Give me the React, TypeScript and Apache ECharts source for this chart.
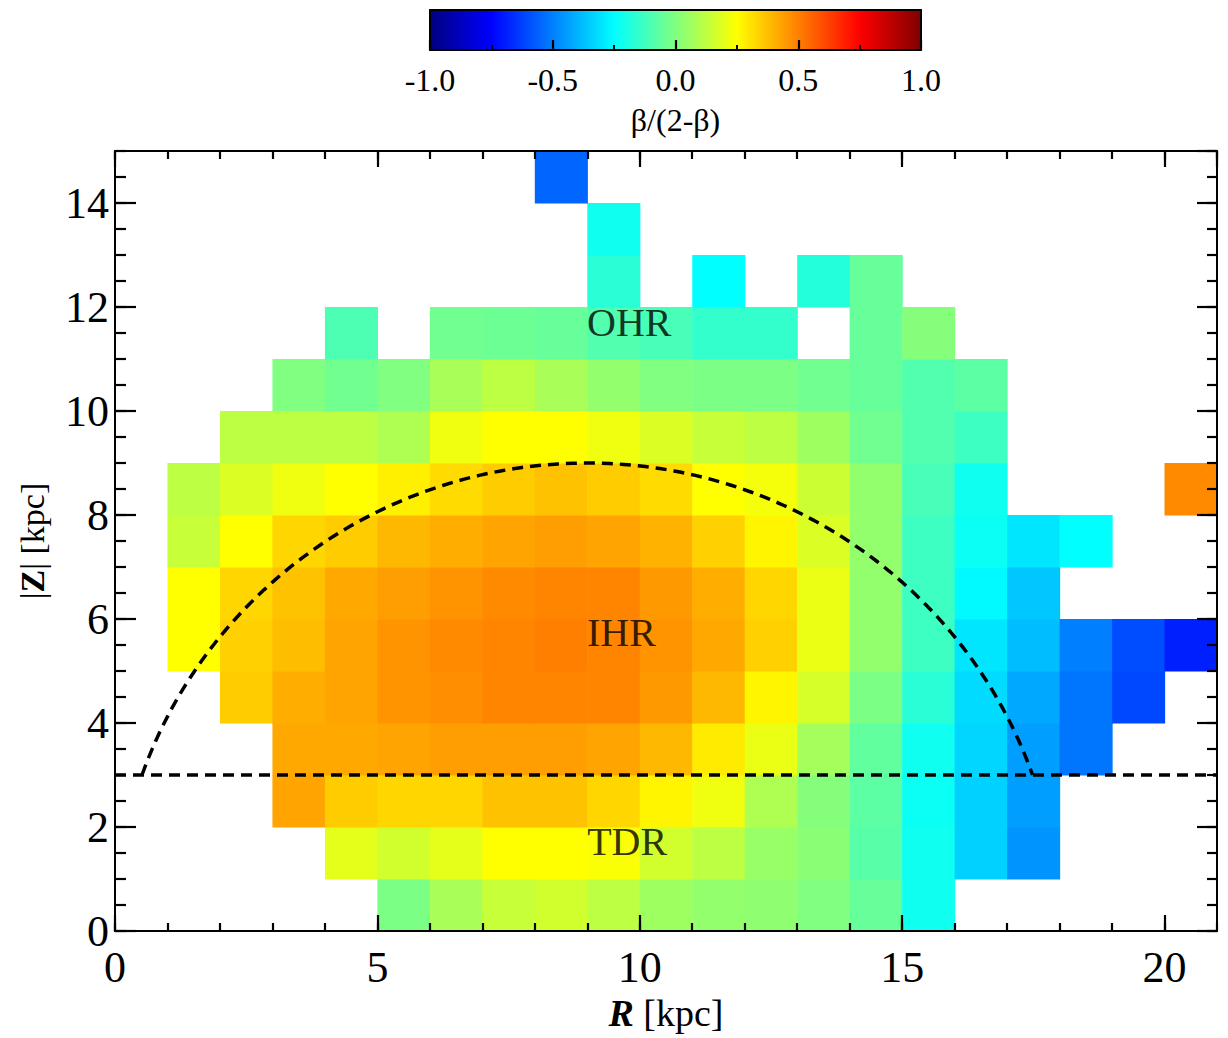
import React, { useEffect, useRef } from "react";
import * as echarts from "echarts";

const _ = null;
// R bins (lower edges, kpc) and |Z| bins (lower edges, kpc), each 1 kpc wide
const rBins = [0, 1, 2, 3, 4, 5, 6, 7, 8, 9, 10, 11, 12, 13, 14, 15, 16, 17, 18, 19, 20];
const zBins = [0, 1, 2, 3, 4, 5, 6, 7, 8, 9, 10, 11, 12, 13, 14];
// beta/(2-beta) per cell, one row per |Z| bin, columns follow rBins
const rowZ0 = [_, _, _, _, _, -0.01, 0.08, 0.14, 0.16, 0.12, 0.06, 0.04, 0.03, 0.0, -0.05, -0.22, _, _, _, _, _];
const rowZ1 = [_, _, _, _, 0.2, 0.16, 0.2, 0.25, 0.25, 0.24, 0.16, 0.12, 0.05, 0.02, -0.08, -0.22, -0.34, -0.46, _, _, _];
const rowZ2 = [_, _, _, 0.43, 0.35, 0.33, 0.33, 0.37, 0.37, 0.33, 0.27, 0.22, 0.09, 0.01, -0.07, -0.23, -0.34, -0.44, _, _, _];
const rowZ3 = [_, _, _, 0.42, 0.42, 0.43, 0.44, 0.44, 0.44, 0.43, 0.39, 0.29, 0.21, 0.07, -0.06, -0.22, -0.33, -0.44, -0.52, _, _];
const rowZ4 = [_, _, 0.35, 0.41, 0.43, 0.46, 0.47, 0.49, 0.49, 0.49, 0.45, 0.39, 0.27, 0.17, -0.01, -0.17, -0.32, -0.42, -0.52, -0.61, _];
const rowZ5 = [_, 0.25, 0.34, 0.38, 0.43, 0.46, 0.48, 0.49, 0.5, 0.49, 0.46, 0.42, 0.34, 0.21, 0.04, -0.13, -0.3, -0.38, -0.5, -0.6, -0.69];
const rowZ6 = [_, 0.25, 0.33, 0.37, 0.42, 0.44, 0.46, 0.48, 0.49, 0.49, 0.45, 0.41, 0.33, 0.21, 0.04, -0.13, -0.26, -0.36, _, _, _];
const rowZ7 = [_, 0.14, 0.25, 0.33, 0.35, 0.39, 0.41, 0.43, 0.44, 0.43, 0.4, 0.34, 0.27, 0.18, 0.04, -0.13, -0.23, -0.3, -0.25, _, _];
const rowZ8 = [_, 0.12, 0.18, 0.22, 0.25, 0.28, 0.32, 0.35, 0.37, 0.35, 0.32, 0.25, 0.23, 0.15, 0.04, -0.11, -0.22, _, _, _, 0.48];
const rowZ9 = [_, _, 0.12, 0.12, 0.12, 0.09, 0.22, 0.25, 0.25, 0.22, 0.18, 0.14, 0.12, 0.06, -0.03, -0.09, -0.13, _, _, _, _];
const rowZ10 = [_, _, _, 0.0, -0.03, 0.0, 0.08, 0.12, 0.08, 0.04, 0.0, -0.01, -0.01, -0.03, -0.05, -0.09, -0.07, _, _, _, _];
const rowZ11 = [_, _, _, _, -0.1, _, -0.03, -0.04, -0.05, -0.09, -0.11, -0.15, -0.15, _, -0.05, 0.01, _, _, _, _, _];
const rowZ12 = [_, _, _, _, _, _, _, _, _, -0.17, _, -0.25, _, -0.18, -0.05, _, _, _, _, _, _];
const rowZ13 = [_, _, _, _, _, _, _, _, _, -0.22, _, _, _, _, _, _, _, _, _, _, _];
const rowZ14 = [_, _, _, _, _, _, _, _, -0.55, _, _, _, _, _, _, _, _, _, _, _, _];
const rows = [rowZ0, rowZ1, rowZ2, rowZ3, rowZ4, rowZ5, rowZ6, rowZ7, rowZ8, rowZ9, rowZ10, rowZ11, rowZ12, rowZ13, rowZ14];

// colour bar ticks
const cbarTicks = [-1.0, -0.5, 0.0, 0.5, 1.0];
// region labels [R, |Z|, text]
const regionLabels: [number, number, string][] = [
  [9.8, 11.7, "OHR"],
  [9.65, 5.75, "IHR"],
  [9.76, 1.73, "TDR"],
];
// boundaries: circle of radius 9 kpc about (R=9, Z=0) above |Z| = 3 kpc, and the |Z| = 3 kpc line
const ARC_CENTER_R = 9;
const ARC_RADIUS = 9;
const DISK_Z = 3;

const JET = ["#000080", "#0000ff", "#0080ff", "#00ffff", "#80ff80", "#ffff00", "#ff8000", "#ff0000", "#800000"];
const FONT = "Liberation Serif";
const TICK_FONT = 44;

export default function App() {
  const ref = useRef<HTMLDivElement>(null);
  useEffect(() => {
    if (!ref.current) return;
    const chart = echarts.init(ref.current, null, { renderer: "svg" });

    const cells: number[][] = [];
    rows.forEach((row, zi) =>
      row.forEach((v, ri) => {
        if (v !== null) cells.push([rBins[ri], zBins[zi], v as number]);
      })
    );

    const arc: number[][] = [];
    const t0 = Math.asin(DISK_Z / ARC_RADIUS);
    const N = 160;
    for (let i = 0; i <= N; i++) {
      const t = t0 + ((Math.PI - 2 * t0) * i) / N;
      arc.push([ARC_CENTER_R - ARC_RADIUS * Math.cos(t), ARC_RADIUS * Math.sin(t)]);
    }
    const diskLine = [
      [0, DISK_Z],
      [21, DISK_Z],
    ];

    const axLine = () => ({ show: true, onZero: false, lineStyle: { color: "#000", width: 2 } });
    const tick = (len: number) => ({ show: true, inside: true, length: len, lineStyle: { color: "#000", width: 2.2 } });
    const mkX = (pos: string, interval: number, len: number, labels: boolean, extra: any = {}) => ({
      gridIndex: 0,
      type: "value",
      position: pos,
      min: 0,
      max: 21,
      interval,
      z: 10,
      axisLine: axLine(),
      axisTick: tick(len),
      axisLabel: {
        show: labels,
        showMaxLabel: false,
        margin: 14,
        fontSize: TICK_FONT,
        fontFamily: FONT,
        color: "#000",
      },
      splitLine: { show: false },
      ...extra,
    });
    const mkY = (pos: string, interval: number, len: number, labels: boolean, extra: any = {}) => ({
      gridIndex: 0,
      type: "value",
      position: pos,
      min: 0,
      max: 15,
      interval,
      z: 10,
      axisLine: axLine(),
      axisTick: tick(len),
      axisLabel: {
        show: labels,
        showMaxLabel: false,
        margin: 6,
        fontSize: TICK_FONT,
        fontFamily: FONT,
        color: "#000",
      },
      splitLine: { show: false },
      ...extra,
    });
    const frameAxis = (kind: "x" | "y", pos: string) => ({
      gridIndex: 1,
      type: "value",
      position: pos,
      min: kind === "x" ? -1 : 0,
      max: 1,
      z: 10,
      axisLine: axLine(),
      axisTick: { show: false },
      axisLabel: { show: false },
      splitLine: { show: false },
    });

    const gradStops = JET.map((c, i) => ({ offset: i / (JET.length - 1), color: c }));

    chart.setOption({
      animation: false,
      backgroundColor: "#fff",
      textStyle: { fontFamily: FONT, color: "#000" },
      grid: [
        { left: 115, top: 151, width: 1102, height: 780, containLabel: false },
        { left: 430, top: 10, width: 491, height: 40, containLabel: false },
      ],
      visualMap: {
        type: "continuous",
        show: false,
        seriesIndex: 0,
        dimension: 2,
        min: -1,
        max: 1,
        inRange: { color: JET },
      },
      xAxis: [
        mkX("bottom", 1, 8, false),
        mkX("bottom", 5, 16, true, {
          name: "{bi|R} [kpc]",
          nameLocation: "middle",
          nameGap: 62,
          nameTextStyle: {
            fontSize: 38,
            fontFamily: FONT,
            color: "#000",
            rich: { bi: { fontSize: 38, fontFamily: FONT, fontWeight: "bold", fontStyle: "italic", color: "#000" } },
          },
        }),
        mkX("top", 1, 8, false),
        mkX("top", 5, 16, false),
        {
          gridIndex: 1,
          type: "value",
          position: "bottom",
          min: -1,
          max: 1,
          interval: 0.5,
          z: 10,
          axisLine: axLine(),
          axisTick: tick(10),
          minorTick: { show: true, splitNumber: 2, length: 5, lineStyle: { color: "#000", width: 2 } },
          axisLabel: {
            show: true,
            margin: 14,
            fontSize: 32,
            fontFamily: FONT,
            color: "#000",
            formatter: (v: number) => {
              const t = cbarTicks.find((c) => Math.abs(c - v) < 1e-6);
              return t === undefined ? "" : t.toFixed(1);
            },
          },
          splitLine: { show: false },
          name: "β/(2-β)",
          nameLocation: "middle",
          nameGap: 54,
          nameTextStyle: { fontSize: 32, fontFamily: FONT, color: "#000" },
        },
        frameAxis("x", "top"),
      ],
      yAxis: [
        mkY("left", 0.5, 11, false),
        mkY("left", 2, 21, true, {
          name: "|{b|Z}| [kpc]",
          nameLocation: "middle",
          nameRotate: 90,
          nameGap: 66,
          nameTextStyle: {
            fontSize: 34,
            fontFamily: FONT,
            color: "#000",
            rich: { b: { fontSize: 34, fontFamily: FONT, fontWeight: "bold", color: "#000" } },
          },
        }),
        mkY("right", 0.5, 10, false),
        mkY("right", 2, 20, false),
        frameAxis("y", "left"),
        frameAxis("y", "right"),
      ],
      series: [
        {
          type: "custom",
          xAxisIndex: 0,
          yAxisIndex: 0,
          data: cells,
          encode: { x: 0, y: 1 },
          z: 2,
          renderItem: (params: any, api: any) => {
            const r = api.value(0);
            const z = api.value(1);
            const p0 = api.coord([r, z + 1]);
            const p1 = api.coord([r + 1, z]);
            return {
              type: "rect",
              shape: { x: p0[0], y: p0[1], width: p1[0] - p0[0] + 0.6, height: p1[1] - p0[1] + 0.6 },
              style: { fill: api.visual("color"), stroke: null },
            };
          },
        },
        {
          type: "line",
          xAxisIndex: 0,
          yAxisIndex: 0,
          data: arc,
          showSymbol: false,
          symbol: "none",
          z: 4,
          lineStyle: { color: "#000", width: 3.5, type: [11, 7] },
        },
        {
          type: "line",
          xAxisIndex: 0,
          yAxisIndex: 0,
          data: diskLine,
          showSymbol: false,
          symbol: "none",
          z: 4,
          lineStyle: { color: "#000", width: 3.5, type: [11, 7] },
        },
        {
          type: "scatter",
          xAxisIndex: 0,
          yAxisIndex: 0,
          z: 5,
          symbolSize: 1,
          itemStyle: { color: "rgba(0,0,0,0)" },
          data: regionLabels.map((d) => ({ value: [d[0], d[1]], name: d[2] })),
          label: {
            show: true,
            position: "inside",
            formatter: "{b}",
            fontSize: 40,
            fontFamily: FONT,
            color: "#000",
          },
        },
        {
          // colour bar body, spanning the colour-bar axes' full range
          type: "custom",
          xAxisIndex: 4,
          yAxisIndex: 4,
          z: 1,
          data: [[-1, 0, 1, 1]],
          renderItem: (params: any, api: any) => {
            const p0 = api.coord([api.value(0), api.value(3)]);
            const p1 = api.coord([api.value(2), api.value(1)]);
            return {
              type: "rect",
              shape: { x: p0[0], y: p0[1], width: p1[0] - p0[0], height: p1[1] - p0[1] },
              style: { fill: new echarts.graphic.LinearGradient(0, 0, 1, 0, gradStops) },
            };
          },
        },
      ],
    });
    return () => chart.dispose();
  }, []);
  return <div ref={ref} style={{ position: "fixed", left: 0, top: 0, width: 1228, height: 1038 }} />;
}
